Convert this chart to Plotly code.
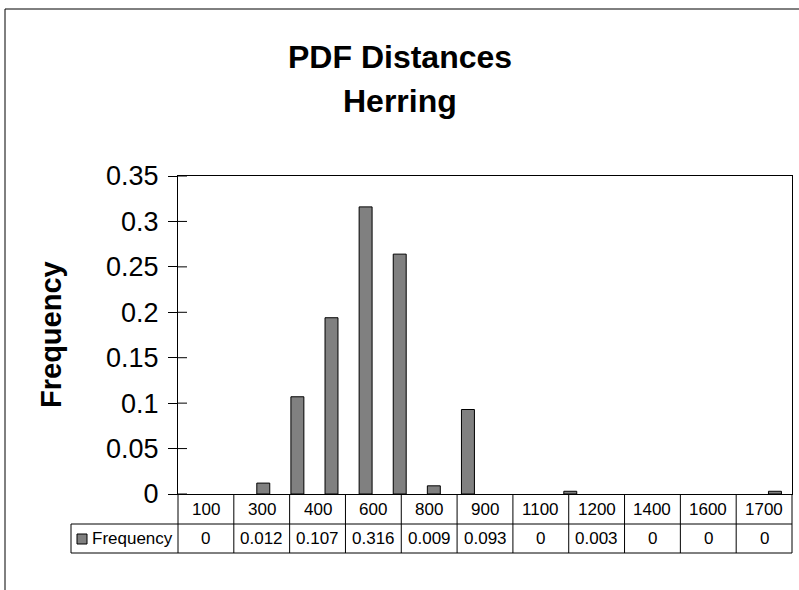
import plotly.graph_objects as go

# Histogram bins (distance) and their relative frequencies
bins = ["100", "200", "300", "400", "500", "600", "700", "800", "900",
        "1000", "1100", "1200", "1300", "1400", "1500", "1600", "1700", "1800"]
frequency = [0, 0, 0.012, 0.107, 0.194, 0.316, 0.264, 0.009, 0.093,
             0, 0, 0.003, 0, 0, 0, 0, 0, 0.003]
# bins listed in the data table under the chart
table_bins = ["100", "300", "400", "600", "800", "900", "1100", "1200", "1400", "1600", "1700"]
y_ticks = [0, 0.05, 0.1, 0.15, 0.2, 0.25, 0.3, 0.35]
series_name = "Frequency"
title_lines = ["PDF Distances", "Herring"]

W, H = 799, 590
L, R, T, B = 178, 7, 176, 96
plot_w = W - L - R
plot_h = H - T - B
FONT = "Arial, Liberation Sans, sans-serif"
BAR_FILL = "#808080"


def px_x(px):
    """Pixel column -> paper x."""
    return (px - L) / plot_w


def px_y(py):
    """Pixel row -> paper y."""
    return (H - B - py) / plot_h


fig = go.Figure()
fig.add_trace(go.Bar(
    x=bins, y=frequency, width=0.38,
    marker=dict(color=BAR_FILL,
                line=dict(color="black", width=[1 if v else 0 for v in frequency])),
    name=series_name, showlegend=False, hoverinfo="x+y",
))

line = dict(color="black", width=1)
shapes = []

# inner half of the crossing y-axis tick marks
for t in y_ticks:
    shapes.append(dict(type="line", xref="paper", yref="y", x0=0, x1=9 / plot_w,
                       y0=t, y1=t, line=line))

# data table under the plot
row1_mid, row_split, row2_mid, row_bottom = 509, 524, 538.5, 553
legend_left = 71
shapes.append(dict(type="line", xref="paper", yref="paper",
                   x0=px_x(legend_left), x1=1, y0=px_y(row_split), y1=px_y(row_split), line=line))
shapes.append(dict(type="line", xref="paper", yref="paper",
                   x0=px_x(legend_left), x1=1, y0=px_y(row_bottom), y1=px_y(row_bottom), line=line))
shapes.append(dict(type="line", xref="paper", yref="paper",
                   x0=px_x(legend_left), x1=px_x(legend_left),
                   y0=px_y(row_split), y1=px_y(row_bottom), line=line))
n_cols = len(table_bins)
for i in range(n_cols + 1):
    shapes.append(dict(type="line", xref="paper", yref="paper",
                       x0=i / n_cols, x1=i / n_cols, y0=0, y1=px_y(row_bottom), line=line))
# legend key
shapes.append(dict(type="rect", xref="paper", yref="paper",
                   x0=px_x(77), x1=px_x(87), y0=px_y(544), y1=px_y(534),
                   fillcolor=BAR_FILL, line=dict(color="black", width=1)))
# chart frame
shapes.append(dict(type="line", xref="paper", yref="paper",
                   x0=px_x(5), x1=px_x(5), y0=px_y(9), y1=px_y(620), line=line))
shapes.append(dict(type="line", xref="paper", yref="paper",
                   x0=px_x(5), x1=px_x(830), y0=px_y(9), y1=px_y(9), line=line))

table_font = dict(family=FONT, size=17, color="black")
annotations = []
for i, b in enumerate(table_bins):
    xc = (i + 0.5) / n_cols
    v = frequency[bins.index(b)]
    annotations.append(dict(x=xc, xref="paper", yref="paper", y=px_y(row1_mid), text=b,
                            showarrow=False, xanchor="center", yanchor="middle", font=table_font))
    annotations.append(dict(x=xc, xref="paper", yref="paper", y=px_y(row2_mid), text=f"{v:g}",
                            showarrow=False, xanchor="center", yanchor="middle", font=table_font))
annotations.append(dict(x=px_x(90), xref="paper", yref="paper", y=px_y(row2_mid), text=series_name,
                        showarrow=False, xanchor="left", yanchor="middle", font=table_font))

# y-axis title
annotations.append(dict(x=px_x(51), xref="paper", yref="paper", y=0.5, text="Frequency",
                        textangle=-90, showarrow=False, xanchor="center", yanchor="middle",
                        font=dict(family=FONT, size=29, color="black", weight="bold")))

# chart title, two lines centred on the whole chart
title_font = dict(family=FONT, size=32, color="black", weight="bold")
for text, row in zip(title_lines, [57, 101]):
    annotations.append(dict(x=px_x(W / 2), xref="paper", y=px_y(row), yref="paper",
                            text=text, showarrow=False, xanchor="center", yanchor="middle",
                            font=title_font))

fig.update_layout(
    width=W, height=H,
    margin=dict(l=L, r=R, t=T, b=B, pad=0),
    paper_bgcolor="white", plot_bgcolor="white",
    xaxis=dict(type="category", range=[-0.5, len(bins) - 0.5],
               showticklabels=False, ticks="", showgrid=False, zeroline=False,
               showline=True, mirror=True, linecolor="black", linewidth=1, fixedrange=True),
    yaxis=dict(range=[0, 0.35], tickvals=y_ticks, ticks="outside", ticklen=9,
               tickcolor="black", tickwidth=1, showgrid=False, zeroline=False,
               showline=True, mirror=True, linecolor="black", linewidth=1,
               tickfont=dict(family=FONT, size=27, color="black"),
               ticklabelstandoff=4, fixedrange=True),
    shapes=shapes,
    annotations=annotations,
    showlegend=False,
)

fig.write_html("out.html")
